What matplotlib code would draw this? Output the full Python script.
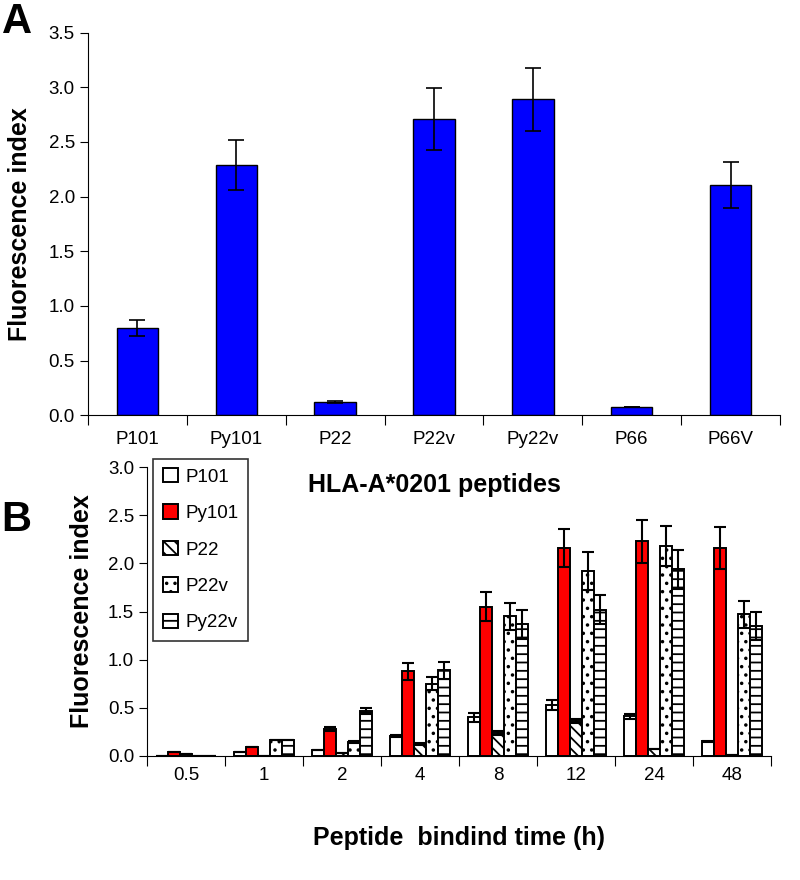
import numpy as np
import matplotlib.pyplot as plt

plt.rcParams['font.family'] = ['Liberation Sans', 'DejaVu Sans']
plt.rcParams['hatch.linewidth'] = 1.3

# panel A
peptides_a = ['P101', 'Py101', 'P22', 'P22v', 'Py22v', 'P66', 'P66V']
index_a = [0.80, 2.29, 0.12, 2.71, 2.89, 0.08, 2.11]
err_a = [0.07, 0.23, 0.01, 0.28, 0.29, 0.0, 0.21]

# panel B
times = ['0.5', '1', '2', '4', '8', '12', '24', '48']
series_b = ['P101', 'Py101', 'P22', 'P22v', 'Py22v']
p101 = [0.0, 0.04, 0.06, 0.21, 0.40, 0.53, 0.41, 0.15]
p101_err = [0.0, 0.0, 0.0, 0.01, 0.05, 0.05, 0.03, 0.01]
py101 = [0.04, 0.09, 0.28, 0.88, 1.55, 2.16, 2.23, 2.16]
py101_err = [0.0, 0.0, 0.02, 0.09, 0.15, 0.20, 0.22, 0.22]
p22 = [0.02, 0.0, 0.03, 0.12, 0.24, 0.36, 0.07, 0.01]
p22_err = [0.0, 0.0, 0.0, 0.01, 0.02, 0.02, 0.0, 0.0]
p22v = [0.0, 0.17, 0.14, 0.75, 1.45, 1.92, 2.18, 1.47]
p22v_err = [0.0, 0.0, 0.01, 0.07, 0.14, 0.20, 0.21, 0.14]
py22v = [0.0, 0.17, 0.47, 0.89, 1.37, 1.52, 1.94, 1.35]
py22v_err = [0.0, 0.0, 0.03, 0.09, 0.15, 0.15, 0.20, 0.15]

fig = plt.figure(figsize=(8, 8.8), dpi=100)

# ---------------- A ----------------
axA = fig.add_axes([0.11, 0.528, 0.865, 0.435])
xa = np.arange(len(peptides_a))
axA.bar(xa, index_a, width=0.42, color='#0000ff', edgecolor='black', linewidth=1.0,
        yerr=err_a, capsize=6, error_kw=dict(elinewidth=1.2, capthick=1.2, ecolor='black'))
axA.set_xlim(-0.5, len(peptides_a) - 0.5)
axA.set_ylim(0, 3.5)
axA.set_yticks(np.arange(0, 3.51, 0.5))
axA.set_yticklabels(['%.1f' % v for v in np.arange(0, 3.51, 0.5)])
axA.set_xticks(np.arange(-0.5, len(peptides_a), 1.0))
axA.set_xticklabels([])
axA.set_xticks(xa, minor=True)
axA.set_xticklabels(peptides_a, minor=True)
axA.tick_params(axis='x', which='minor', length=0, pad=11, labelsize=13.5)
axA.tick_params(axis='x', which='major', length=7, direction='out')
axA.tick_params(axis='y', labelsize=13.5, length=6)
axA.spines['top'].set_visible(False)
axA.spines['right'].set_visible(False)
axA.set_xlabel('HLA-A*0201 peptides', fontsize=18, fontweight='bold', labelpad=18)
axA.set_ylabel('Fluorescence index', fontsize=18, fontweight='bold', labelpad=12)

# ---------------- B ----------------
axB = fig.add_axes([0.184, 0.141, 0.78, 0.328])
axB.set_facecolor('none')
xb = np.arange(len(times))
w = 0.155
vals = [p101, py101, p22, p22v, py22v]
errs = [p101_err, py101_err, p22_err, p22v_err, py22v_err]
faces = ['white', '#ff0000', 'white', 'white', 'white']
hatches = [None, None, '\\\\\\', '..', '--']
for i, name in enumerate(series_b):
    axB.bar(xb + (i - 2) * w, vals[i], width=w, color=faces[i], edgecolor='black',
            linewidth=1.4, hatch=hatches[i], label=name,
            yerr=errs[i], capsize=4,
            error_kw=dict(elinewidth=1.5, capthick=1.5, ecolor='black'))
axB.set_xlim(-0.5, len(times) - 0.5)
axB.set_ylim(0, 3.0)
axB.set_yticks(np.arange(0, 3.01, 0.5))
axB.set_yticklabels(['%.1f' % v for v in np.arange(0, 3.01, 0.5)])
axB.set_xticks(np.arange(-0.5, len(times), 1.0))
axB.set_xticklabels([])
axB.set_xticks(xb, minor=True)
axB.set_xticklabels(times, minor=True)
axB.tick_params(axis='x', which='minor', length=0, pad=8, labelsize=13.5)
axB.tick_params(axis='x', which='major', length=7, direction='out')
axB.tick_params(axis='y', labelsize=13.5, length=6)
axB.spines['top'].set_visible(False)
axB.spines['right'].set_visible(False)
axB.set_xlabel('Peptide  bindind time (h)', fontsize=18, fontweight='bold', labelpad=30)
axB.set_ylabel('Fluorescence index', fontsize=18, fontweight='bold', labelpad=10)
leg = axB.legend(loc='upper left', bbox_to_anchor=(0.01, 1.03), fontsize=13.5,
                 frameon=True, fancybox=False, edgecolor='black', handlelength=0.8,
                 handleheight=0.8, handletextpad=0.4, labelspacing=1.0, borderpad=0.5,
                 borderaxespad=0.0)
leg.get_frame().set_linewidth(1.2)

fig.text(0.002, 0.998, 'A', fontsize=30, fontweight='bold', va='top', ha='left')
fig.text(0.002, 0.432, 'B', fontsize=30, fontweight='bold', va='top', ha='left')

fig.savefig('out.png', dpi=100)
